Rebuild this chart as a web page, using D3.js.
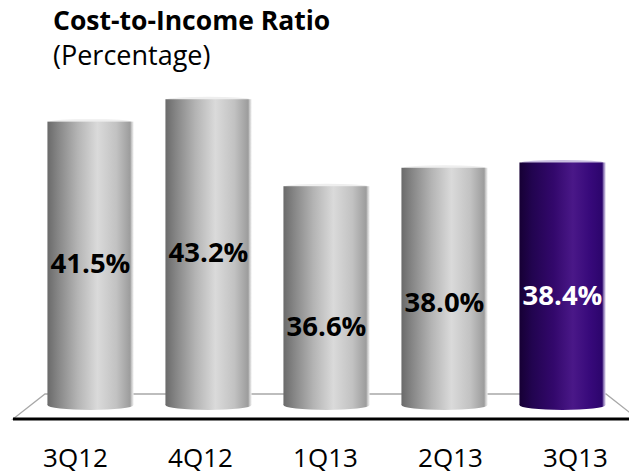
<!DOCTYPE html>
<html>
<head>
<meta charset="utf-8">
<script src="https://cdn.jsdelivr.net/npm/d3@7"></script>
<style>
  body { margin: 0; background: #fff; }
  text { font-family: "Open Sans", "Noto Sans", sans-serif; }
</style>
</head>
<body>
<svg id="chart"></svg>
<script>
// data
const categories = ["3Q12", "4Q12", "1Q13", "2Q13", "3Q13"];
const ratios = [41.5, 43.2, 36.6, 38.0, 38.4];
const valueLabels = ["41.5%", "43.2%", "36.6%", "38.0%", "38.4%"];
const highlighted = "3Q13";
const titleText = "Cost-to-Income Ratio";
const subtitleText = "(Percentage)";

const width = 629, height = 475;
const base = 405;          // where the bars stand
const floor = { backY: 394, frontY: 419, backL: 45, backR: 606, frontL: 13, frontR: 638 };
// the labels in the original were nudged down by hand on the last three bars
const labelNudge = [0, 0, 30, 16, 11];

const svg = d3.select("#chart").attr("width", width).attr("height", height);
const defs = svg.append("defs");

function gradient(id, stops) {
  const g = defs.append("linearGradient").attr("id", id)
    .attr("x1", "0%").attr("x2", "100%").attr("y1", "0%").attr("y2", "0%");
  stops.forEach(s => g.append("stop").attr("offset", s[0]).attr("stop-color", s[1]));
}
gradient("grey", [["0%", "#6a6a6a"], ["12%", "#858585"], ["35%", "#b4b4b4"], ["58%", "#dadada"],
                  ["80%", "#c2c2c2"], ["96%", "#9c9c9c"], ["98%", "#d0d0d0"], ["100%", "#eeeeee"]]);
gradient("purple", [["0%", "#160034"], ["15%", "#220450"], ["40%", "#33086c"], ["62%", "#4a1888"],
                    ["82%", "#37097a"], ["96%", "#2c056c"], ["98%", "#9a88c0"], ["100%", "#d6cce6"]]);

const x = d3.scaleBand().domain(categories).range([31.5, 621.5]).paddingInner(0.27).paddingOuter(0.135);
const xAxisBand = d3.scaleBand().domain(categories).range([floor.frontL, floor.frontR]);
const y = d3.scaleLinear().domain([20, 45]).range([base, 75.5]);

// floor
svg.append("polygon")
  .attr("points", [[floor.backL, floor.backY], [floor.backR, floor.backY],
                   [floor.frontR, floor.frontY], [floor.frontL, floor.frontY]].join(" "))
  .attr("fill", "#fff").attr("stroke", "#a8a8a8").attr("stroke-width", 1.3);
svg.append("line")
  .attr("x1", floor.frontL).attr("x2", floor.frontR)
  .attr("y1", floor.frontY).attr("y2", floor.frontY)
  .attr("stroke", "#000").attr("stroke-width", 3);

const data = categories.map((c, i) => ({ cat: c, v: ratios[i], label: valueLabels[i], nudge: labelNudge[i] }));

const bars = svg.append("g").selectAll("g").data(data).join("g");
const fillOf = d => d.cat === highlighted ? "url(#purple)" : "url(#grey)";

bars.append("ellipse")
  .attr("cx", d => x(d.cat) + x.bandwidth() / 2).attr("cy", base)
  .attr("rx", x.bandwidth() / 2).attr("ry", 5)
  .attr("fill", fillOf);
bars.append("ellipse")
  .attr("cx", d => x(d.cat) + x.bandwidth() / 2).attr("cy", d => y(d.v))
  .attr("rx", x.bandwidth() / 2 - 2).attr("ry", 2.5)
  .attr("fill", d => d.cat === highlighted ? "#c9bde0" : "#eeeeee");
bars.append("rect")
  .attr("x", d => x(d.cat)).attr("width", x.bandwidth())
  .attr("y", d => y(d.v)).attr("height", d => base - y(d.v))
  .attr("fill", fillOf);

bars.append("text")
  .attr("x", d => x(d.cat) + x.bandwidth() / 2)
  .attr("y", d => (y(d.v) + base) / 2 + d.nudge + 10)
  .attr("text-anchor", "middle")
  .attr("font-size", 27.5).attr("font-weight", "bold")
  .attr("fill", d => d.cat === highlighted ? "#fff" : "#000")
  .text(d => d.label);

// category labels along the front edge
svg.append("g").selectAll("text").data(categories).join("text")
  .attr("x", d => xAxisBand(d) + xAxisBand.bandwidth() / 2)
  .attr("y", 467)
  .attr("text-anchor", "middle")
  .attr("font-size", 26)
  .attr("fill", "#000")
  .text(d => d);

svg.append("text").attr("x", 53).attr("y", 30)
  .attr("font-size", 26.5).attr("font-weight", "bold").text(titleText);
svg.append("text").attr("x", 53).attr("y", 65)
  .attr("font-size", 27).text(subtitleText);
</script>
</body>
</html>
